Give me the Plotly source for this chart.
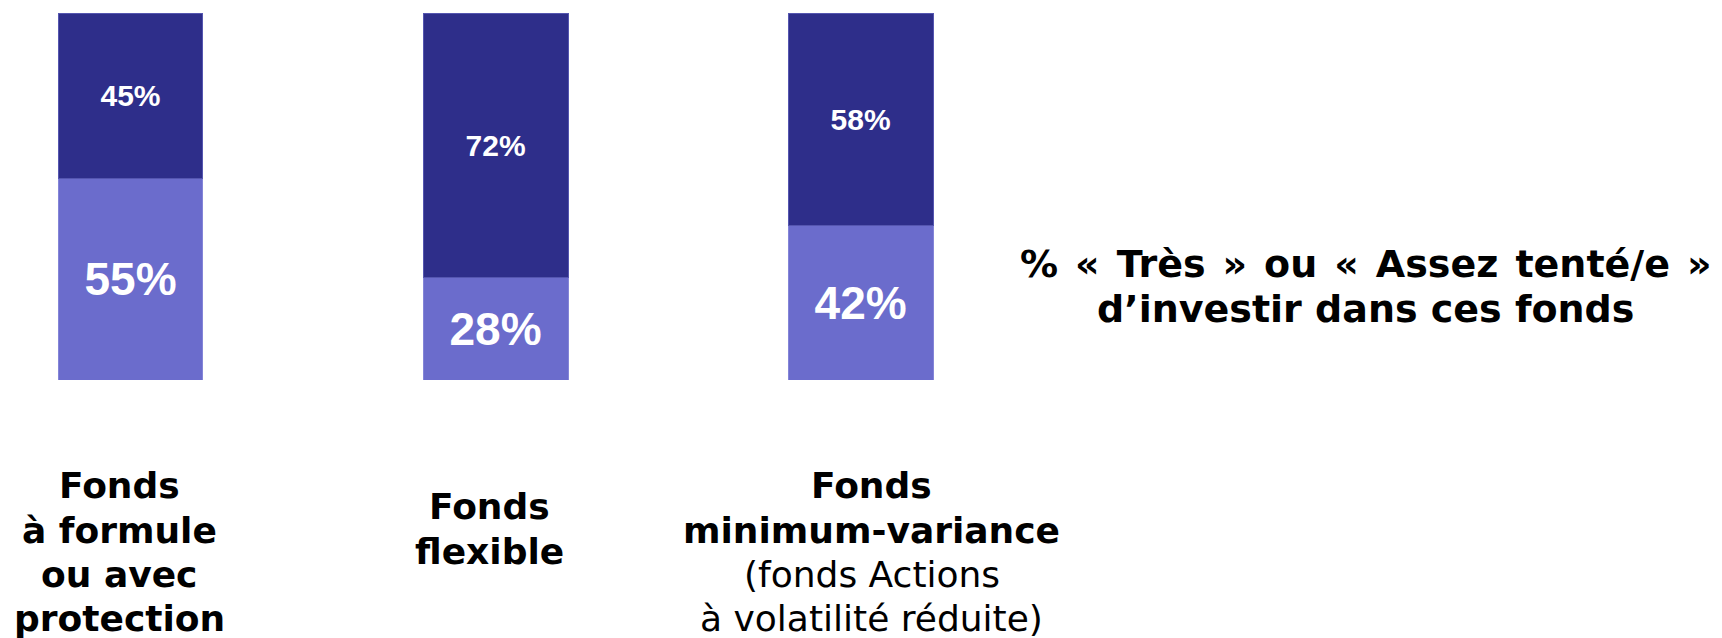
import plotly.graph_objects as go

# ---- data ----
categories = ["Fonds à formule ou avec protection", "Fonds flexible", "Fonds minimum-variance"]
tempted = [55, 28, 42]          # % « Très » ou « Assez tenté/e »
not_tempted = [45, 72, 58]      # remainder
category_labels = [
    ["<b>Fonds</b>", "<b>à formule</b>", "<b>ou avec</b>", "<b>protection</b>"],
    ["<b>Fonds</b>", "<b>flexible</b>"],
    ["<b>Fonds</b>", "<b>minimum-variance</b>", "(fonds Actions", "à volatilité réduite)"],
]
title_lines = ["% « Très » ou « Assez tenté/e »", "d’investir dans ces fonds"]

# ---- styles ----
LIGHT = "#6B6CCC"
DARK = "#2E2E8A"
LABEL_FONT = "DejaVu Sans, Verdana, sans-serif"
NUM_FONT = "Liberation Sans, Arial, sans-serif"
LINE_STEP = 44.3

fig = go.Figure()
fig.add_trace(go.Bar(
    x=categories, y=tempted, name="Tenté/e",
    marker=dict(color=LIGHT, line=dict(color="#8485d8", width=1)),
    width=0.397,
    texttemplate="<b>%{y}%</b>", textposition="inside", insidetextanchor="middle",
    textfont=dict(family=NUM_FONT, size=46, color="white"),
    constraintext="none",
))
fig.add_trace(go.Bar(
    x=categories, y=not_tempted, name="Autre",
    marker=dict(color=DARK, line=dict(color="#5556b0", width=1)),
    width=0.397,
    texttemplate="<b>%{y}%</b>", textposition="inside", insidetextanchor="middle",
    textfont=dict(family=NUM_FONT, size=30, color="white"),
    constraintext="none",
))

label_shift = [-11.5, -6, 11]
label_top = [-0.2888, -0.346, -0.2888]
for cat, lines, dx, y0 in zip(categories, category_labels, label_shift, label_top):
    for i, line in enumerate(lines):
        fig.add_annotation(
            x=cat, xref="x", y=y0, yref="paper", text=line, showarrow=False,
            xanchor="center", yanchor="middle", align="center",
            xshift=dx, yshift=-i * LINE_STEP,
            font=dict(family=LABEL_FONT, size=36, color="black"),
        )

for i, line in enumerate(title_lines):
    shown = line.replace(" ", " \u200a") if i == 0 else line
    fig.add_annotation(
        x=0.8002, xref="paper", y=0.3174, yref="paper", text="<b>" + shown + "</b>",
        showarrow=False, xanchor="center", yanchor="middle", align="center",
        yshift=-i * 45,
        font=dict(family=LABEL_FONT, size=38, color="black"),
    )

fig.update_layout(
    barmode="stack",
    width=1714, height=630,
    margin=dict(l=12, r=20, t=5, b=258),
    paper_bgcolor="white", plot_bgcolor="white",
    showlegend=False,
    xaxis=dict(range=[-0.3027, 4.305], showticklabels=False, showgrid=False,
               zeroline=False, showline=False, ticks=""),
    yaxis=dict(range=[0, 100], showticklabels=False, showgrid=False,
               zeroline=False, showline=False, ticks=""),
)

fig.write_html("out.html")
